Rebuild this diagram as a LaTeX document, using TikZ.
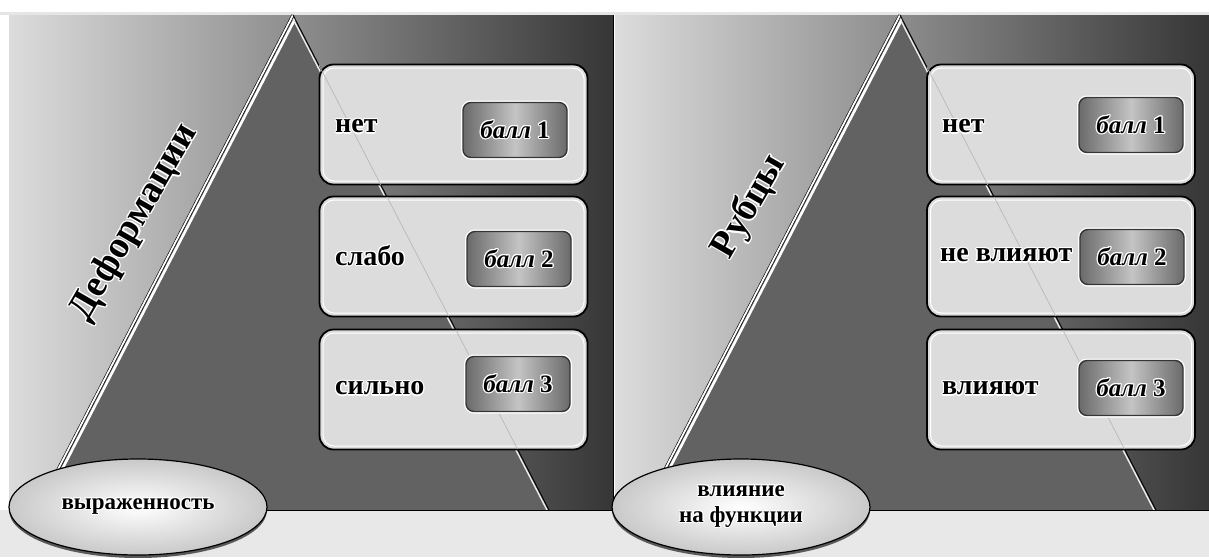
\documentclass[tikz,border=0pt]{standalone}
\usepackage{fontspec}
\setmainfont{Liberation Serif}
\usepackage[copies]{contour}
\contourlength{1.2pt}
\contournumber{12}
\usetikzlibrary{shapes.geometric}
\definecolor{bgl}{HTML}{DCDCDC}
\definecolor{bgr}{HTML}{363636}
\definecolor{trifill}{HTML}{626262}
\definecolor{boxfill}{HTML}{DCDCDC}
\definecolor{stripgray}{HTML}{E8E8E8}
\definecolor{badgeedge}{HTML}{6A6A6A}
\definecolor{badgemid}{HTML}{C4C4C4}
\definecolor{badgeline}{HTML}{353535}
\definecolor{ovalout}{HTML}{C9C9C9}
\definecolor{faint}{HTML}{B8B8B8}
\newcommand{\glow}[1]{\contour{white}{#1}}
\tikzset{
 boxout/.style={draw=black, line width=1.8pt, fill=boxfill, rounded corners=14pt, minimum width=268pt, minimum height=120pt, inner sep=0pt},
 boxin/.style={draw=white, line width=1pt, rounded corners=11pt, minimum width=261pt, minimum height=113pt, inner sep=0pt},
 badge/.style={draw=badgeline, line width=1.4pt, rounded corners=8pt, left color=badgeedge, right color=badgeedge, middle color=badgemid, minimum width=104pt, minimum height=55pt, inner sep=0pt, font=\bfseries\fontsize{25}{25}\selectfont, preaction={draw=white, line width=4pt}},
 lbl/.style={anchor=west, inner sep=0pt, font=\bfseries\fontsize{28}{28}\selectfont},
 ttl/.style={rotate=60, inner sep=0pt, font=\bfseries\fontsize{38}{38}\selectfont},
 oval/.style={ellipse, draw=black, line width=1.2pt, inner color=white, outer color=ovalout, minimum width=258pt, minimum height=96pt, inner sep=0pt, align=center, font=\bfseries\fontsize{23}{26}\selectfont},
 ovalshadow/.style={ellipse, fill=black!65, minimum width=258pt, minimum height=96pt, inner sep=0pt},
 panel/.style={left color=bgl, right color=bgr},
 rim/.style={black, line width=0.6pt, double=white, double distance=1.8pt},
}
\begin{document}
\begin{tikzpicture}[x=1pt,y=-1pt]
\useasboundingbox (0,0) rectangle (1209,557);
\fill[white] (0,0) rectangle (1209,557);
\fill[stripgray] (0,510) rectangle (1209,557);
\fill[gray!20] (0,12) rectangle (1209,15);

% ---------- left panel ----------
\fill[panel] (9,15) rectangle (613,510);
\coordinate (LA) at (293,15);
\coordinate (LL) at (37,510);
\coordinate (LR) at (549,510);
\fill[trifill] (LA) -- (LL) -- (LR) -- cycle;
\begin{scope}
\clip (LA) -- (LL) -- (LR) -- cycle;
\draw[white, line width=2.6pt] (296.2,16.7) -- (40.2,511.7);
\draw[white!85!gray, line width=1.4pt] (291.4,15.8) -- (547.4,510.8);
\end{scope}
\draw[rim] (LA) -- (LL);
\draw[black, line width=0.9pt] (LA) -- (LR);
\draw[black, line width=1pt] (9,510) -- (613,510) -- (613,15);

\node[boxout] (L1) at (453.5,124.5) {};
\node[boxin] (L1i) at (L1) {};
\node[boxout] (L2) at (453.5,256.5) {};
\node[boxin] (L2i) at (L2) {};
\node[boxout] (L3) at (453.5,389.5) {};
\node[boxin] (L3i) at (L3) {};
\begin{scope}
\clip (319,64) rectangle (588,185) (319,197) rectangle (588,316) (319,330) rectangle (588,449);
\draw[faint, line width=0.7pt] (LA) -- (LR);
\end{scope}

\node[lbl] (LT1) at (335,127) {\glow{нет}};
\node[lbl] (LT2) at (335,256) {\glow{слабо}};
\node[lbl] (LT3) at (335,389) {\glow{сильно}};
\node[badge] (LB1) at (515,130) {\glow{\textit{балл} 1}};
\node[badge] (LB2) at (519,259) {\glow{\textit{балл} 2}};
\node[badge] (LB3) at (518,384) {\glow{\textit{балл} 3}};

\node[ttl] (LTitle) at (135,223) {\glow{Деформации}};

\node[ovalshadow] (LOs) at (138,510) {};
\node[oval] (LO) at (138,507) {\glow{выраженность}};

% ---------- right panel ----------
\fill[panel] (615,15) rectangle (1209,510);
\coordinate (RA) at (900,15);
\coordinate (RL) at (644,510);
\coordinate (RR) at (1156,510);
\fill[trifill] (RA) -- (RL) -- (RR) -- cycle;
\begin{scope}
\clip (RA) -- (RL) -- (RR) -- cycle;
\draw[white, line width=2.6pt] (903.2,16.7) -- (647.2,511.7);
\draw[white!85!gray, line width=1.4pt] (898.4,15.8) -- (1154.4,510.8);
\end{scope}
\draw[rim] (RA) -- (RL);
\draw[black, line width=0.9pt] (RA) -- (RR);
\draw[black, line width=1pt] (615,510) -- (1209,510);

\node[boxout] (R1) at (1061,124.5) {};
\node[boxin] (R1i) at (R1) {};
\node[boxout] (R2) at (1061,256.5) {};
\node[boxin] (R2i) at (R2) {};
\node[boxout] (R3) at (1061,389.5) {};
\node[boxin] (R3i) at (R3) {};
\begin{scope}
\clip (927,64) rectangle (1195,185) (927,197) rectangle (1195,316) (927,330) rectangle (1195,449);
\draw[faint, line width=0.7pt] (RA) -- (RR);
\end{scope}

\node[lbl] (RT1) at (942,127) {\glow{нет}};
\node[lbl] (RT2) at (940,256) {\glow{не влияют}};
\node[lbl] (RT3) at (942,389) {\glow{влияют}};
\node[badge] (RB1) at (1131,125) {\glow{\textit{балл} 1}};
\node[badge] (RB2) at (1132,257) {\glow{\textit{балл} 2}};
\node[badge] (RB3) at (1131,388) {\glow{\textit{балл} 3}};

\node[ttl] (RTitle) at (750,207) {\glow{Рубцы}};

\node[ovalshadow] (ROs) at (741,510) {};
\node[oval] (RO) at (741,507) {\glow{влияние}\\\glow{на функции}};
\end{tikzpicture}
\end{document}
